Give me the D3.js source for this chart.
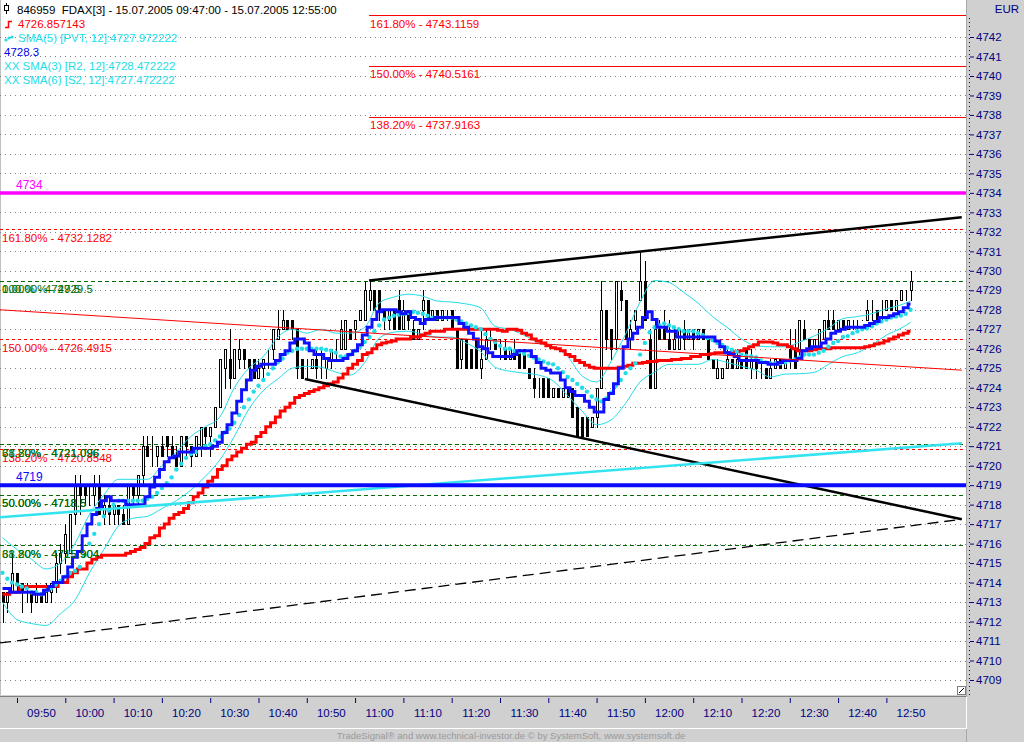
<!DOCTYPE html>
<html>
<head>
<meta charset="utf-8">
<script src="https://cdn.jsdelivr.net/npm/d3@7"></script>
<style>
body { margin: 0; background: #fff; overflow: hidden; }
svg { display: block; font-family: "Liberation Sans", Arial, sans-serif; }
</style>
</head>
<body>
<svg id="chart" width="1024" height="742"></svg>
<script>
//------------------------------------------------------------
//--------------------------- DADOS --------------------------
// barras de 1 minuto a partir de 09:47 (FDAX, 15.07.2005)
var opens = [
4713.5,4713,4713.5,4714.5,4714,4713.5,4713.5,4713,4713.5,4713,
4713.5,4714,4715,4715.5,4715.5,4717.5,4719,4719,4718.5,4718.5,
4719,4717.5,4718,4717.5,4718,4717.5,4717,4719,4718.5,4719.5,
4721,4720.5,4720.5,4721,4721.5,4721,4720.5,4720,4721.5,4721,
4720.5,4721,4722,4721.5,4722,4723,4725,4725.5,4724.5,4725.5,
4726,4725.5,4725.5,4724.5,4725,4725.5,4726,4726.5,4727,4727.5,
4727.5,4727,4725.5,4725,4725,4725.5,4725,4725,4725.5,4726,
4726,4726,4727,4727,4727.5,4727.5,4728.5,4729,4729,4728,
4727.5,4728,4728.5,4727,4728,4727,4726.5,4728,4728.5,4727.5,
4728,4727.5,4728,4728,4727,4725.5,4726.5,4726,4726.5,4725,
4725.5,4726.5,4726.5,4726,4726,4725.5,4726,4726,4726,4725,
4724.5,4724,4724.5,4724.5,4723.5,4724,4723.5,4724,4724,4723,
4722.5,4722.5,4722,4722.5,4724,4728,4727,4726.5,4729,4728.5,
4726.5,4727.5,4728.5,4729.5,4726.5,4724,4727,4727,4726.5,4726,
4726,4727,4726.5,4727,4726.5,4727,4726.5,4725.5,4724.5,4724.5,
4725,4725.5,4725,4725.5,4726,4725,4725.5,4725,4725,4724.5,
4725,4725.5,4725,4726,4726,4726,4727,4726.5,4726,4726,
4726.5,4727.5,4727.5,4727,4727.5,4727,4727.5,4727.5,4727.5,4727.5,
4728,4728,4728,4728,4728.5,4728,4728.5,4729,4729];

var highs = [
4713.5,4713.5,4715.5,4714.5,4714,4714,4713.5,4714,4713.5,4714,
4714,4715.5,4716,4717,4717.5,4719.5,4719.5,4719,4719,4719.5,
4719.5,4718.5,4718.5,4718,4718,4718,4719,4719,4719.5,4721.5,
4721.5,4721.5,4721,4721.5,4721.5,4721.5,4721,4721.5,4721.5,4721,
4721.5,4722,4722,4722,4723,4725.5,4726,4727,4726,4726.5,
4726,4725.5,4725.5,4725.5,4725.5,4726,4727,4728,4728,4727.5,
4727.5,4727,4725.5,4725.5,4725.5,4726,4726,4725.5,4726,4726.5,
4727.5,4727.5,4727,4727.5,4728,4729.5,4729.5,4729,4729,4728,
4728,4728,4729,4728.5,4728,4727.5,4727,4729,4728.5,4728,
4728,4728,4728,4728,4727,4726.5,4726.5,4726,4726.5,4727,
4727,4727,4726.5,4726.5,4726.5,4726,4726.5,4726,4726,4725,
4725,4724.5,4724.5,4724.5,4724,4724,4724,4724,4724,4723,
4722.5,4722.5,4722.5,4724,4729.5,4728,4727,4729.5,4729.5,4728.5,
4727.5,4728,4731,4730.5,4727,4727.5,4727.5,4728,4727.5,4727,
4727,4727.5,4727,4727,4727,4727,4726.5,4725.5,4725.5,4725,
4726,4725.5,4726,4725.5,4726,4726,4725.5,4725.5,4725,4725.5,
4725.5,4725.5,4725.5,4727,4727,4727.5,4727.5,4726.5,4726.5,4727,
4727.5,4728,4728,4727.5,4727.5,4727.5,4727.5,4727.5,4727.5,4728.5,
4728.5,4728,4728.5,4728.5,4728.5,4728.5,4729,4729,4730];

var lows = [
4712,4712.5,4713.5,4713.5,4712.5,4713,4712.5,4713,4713,4713,
4713,4713.5,4714.5,4715,4715.5,4717,4717.5,4718,4718,4718,
4717.5,4717,4717,4717,4717,4717,4717,4718,4718,4719,
4720.5,4720,4720,4720.5,4720.5,4720.5,4720,4720,4720.5,4720,
4720.5,4720.5,4721,4720.5,4722,4723,4724,4724,4724.5,4725,
4725,4724.5,4724.5,4724.5,4724.5,4725,4725.5,4726.5,4727,4727,
4726.5,4724.5,4724.5,4724.5,4725,4724.5,4724.5,4724.5,4725,4725.5,
4726,4726,4726.5,4726.5,4727.5,4727.5,4728,4728,4727.5,4727,
4727,4727,4727,4727,4727,4726.5,4726.5,4727,4727.5,4727.5,
4727.5,4727.5,4727.5,4727,4725,4725,4725,4725,4725,4724.5,
4725.5,4726,4726,4725.5,4725.5,4725.5,4725.5,4725,4725,4724.5,
4723.5,4723.5,4723.5,4723.5,4723.5,4723.5,4723.5,4723.5,4722.5,4721.5,
4721.5,4721.5,4722,4722,4724,4726,4725.5,4726,4728,4726.5,
4726,4727,4728.5,4727.5,4724,4724,4726.5,4726.5,4726,4726,
4726,4726,4726.5,4726,4726.5,4726.5,4725.5,4725,4724.5,4724.5,
4725,4725,4725,4725,4725,4724.5,4724.5,4724.5,4724.5,4724.5,
4725,4725,4725,4725,4725,4725.5,4726.5,4726,4726,4726,
4726.5,4727,4727,4727,4727,4727,4727,4727,4727.5,4727.5,
4727.5,4727.5,4727.5,4728,4728,4728,4728.5,4728.5,4728.5];

var closes = [
4713,4713.5,4714.5,4714,4713.5,4713.5,4713,4713.5,4713,4713.5,
4714,4715,4715.5,4716.5,4717.5,4719,4718.5,4718.5,4718.5,4719,
4717.5,4718,4717.5,4718,4717.5,4717,4719,4718.5,4719.5,4721,
4720.5,4720.5,4721,4720.5,4721,4720.5,4720,4721.5,4721,4720.5,
4721.5,4722,4721.5,4722,4723,4725.5,4726,4724.5,4726,4726,
4725.5,4725,4724.5,4725,4725.5,4725.5,4727,4727,4727.5,4727,
4727,4725,4724.5,4725,4725.5,4725,4725,4725.5,4726,4726,
4727,4727.5,4726.5,4727.5,4728,4729,4729,4728,4728,4727.5,
4728,4727,4727,4728,4727.5,4726.5,4727,4728.5,4727.5,4728,
4727.5,4728,4728,4727,4725,4726.5,4725,4725,4725,4725.5,
4726.5,4726.5,4726,4726,4725.5,4726,4725.5,4725,4725,4724.5,
4724,4724,4723.5,4723.5,4724,4723.5,4724,4723.5,4722.5,4721.5,
4721.5,4721.5,4722.5,4724,4728,4726.5,4726,4729.5,4728.5,4726.5,
4727,4728,4729.5,4727.5,4724,4727,4726.5,4726.5,4726,4726.5,
4727,4726.5,4727,4726.5,4727,4726.5,4725.5,4725,4725,4725,
4725.5,4725,4725.5,4725,4725,4725.5,4725,4725,4724.5,4725,
4725.5,4725,4725.5,4725.5,4725,4727.5,4726.5,4726,4726.5,4727,
4727.5,4727,4727,4727.5,4727,4727.5,4727.5,4727.5,4727.5,4728,
4728,4727.5,4728,4728.5,4728,4728.5,4729,4729,4729.5];

// linha azul em degraus (4728.3)
var blueLine = [
4713.7,4713.7,4713.5,4713.5,4713.5,4713.5,4713.5,4713.4,4713.4,4713.6,
4713.8,4714,4714,4714.3,4714.8,4715.3,4715.6,4716.4,4717,4717.5,
4717.8,4718.2,4718.4,4718.2,4718.2,4718.2,4718,4718,4718,4718,
4718.4,4718.9,4719.4,4719.8,4720.2,4720.4,4720.5,4720.7,4720.7,4720.7,
4720.9,4720.9,4720.9,4720.9,4721,4721.2,4721.7,4722.1,4722.7,4723.3,
4723.9,4724.4,4724.9,4725.1,4725.2,4725.2,4725.2,4725.4,4725.7,4725.9,
4726.3,4726.5,4726.5,4726.3,4725.9,4725.7,4725.7,4725.5,4725.4,4725.4,
4725.4,4725.5,4725.7,4725.9,4726.2,4726.7,4727.1,4727.5,4727.9,4728,
4728,4728,4727.9,4727.8,4727.9,4727.6,4727.5,4727.3,4727.5,4727.5,
4727.6,4727.6,4727.6,4727.6,4727.6,4727.3,4727.1,4726.8,4726.5,4726.1,
4726,4725.8,4725.6,4725.6,4725.6,4725.6,4725.7,4725.9,4725.9,4725.9,
4725.6,4725.3,4725,4724.9,4724.75,4724.75,4724.4,4724,4723.8,4723.6,
4723.6,4723.3,4723,4722.75,4722.75,4723.4,4723.7,4724.2,4725,4726.1,
4726.5,4726.8,4727.1,4727.6,4727.9,4727.5,4727.1,4727.1,4726.9,4726.9,
4726.6,4726.6,4726.6,4726.6,4726.6,4726.6,4726.6,4726.6,4726.4,4726.1,
4725.8,4725.7,4725.6,4725.4,4725.4,4725.4,4725.4,4725.3,4725.3,4725.2,
4725.2,4725.3,4725.4,4725.4,4725.4,4725.5,4725.9,4726,4726.1,4726.1,
4726.3,4726.5,4726.8,4726.9,4727,4727.1,4727.1,4727.1,4727.1,4727.2,
4727.3,4727.4,4727.6,4727.6,4727.7,4727.8,4727.9,4728.1,4728.3];

// linha vermelha em degraus (4726.857143)
var redLine = [
4713.4,4713.4,4713.5,4713.5,4713.8,4713.8,4713.8,4713.8,4713.8,4713.8,
4713.8,4713.8,4714,4714,4714.3,4714.5,4714.7,4714.7,4715,4715.2,
4715.3,4715.4,4715.4,4715.4,4715.4,4715.4,4715.5,4715.6,4715.7,4715.8,
4716,4716.3,4716.4,4716.8,4717,4717.3,4717.5,4717.6,4717.8,4718.1,
4718.4,4718.6,4718.9,4719.2,4719.4,4719.8,4720,4720.3,4720.5,4720.7,
4720.9,4721.1,4721.2,4721.5,4721.7,4722,4722.2,4722.5,4722.8,4723,
4723.2,4723.5,4723.6,4723.7,4723.8,4723.9,4724,4724.1,4724.2,4724.3,
4724.5,4724.7,4725,4725.2,4725.4,4725.7,4725.8,4726,4726.2,4726.3,
4726.35,4726.4,4726.5,4726.5,4726.5,4726.6,4726.6,4726.7,4726.8,4726.9,
4726.9,4726.9,4727,4727,4727,4727,4727,4727,4727,4727,
4727,4727,4727,4726.95,4726.9,4727,4727,4726.95,4726.8,4726.7,
4726.5,4726.4,4726.3,4726.15,4726.05,4726,4725.9,4725.7,4725.6,4725.4,
4725.3,4725.15,4725.05,4725,4725,4725,4725,4725,4725.05,4725.1,
4725.15,4725.25,4725.25,4725.3,4725.35,4725.35,4725.4,4725.4,4725.4,4725.45,
4725.45,4725.5,4725.5,4725.6,4725.6,4725.7,4725.7,4725.75,4725.8,4725.8,
4725.8,4725.8,4725.85,4725.9,4726,4726.1,4726.2,4726.35,4726.35,4726.35,
4726.3,4726.2,4726.2,4726.1,4726,4725.9,4725.9,4725.9,4725.95,4726,
4726,4726,4726.05,4726.05,4726.05,4726.05,4726.05,4726.05,4726.05,4726.1,
4726.15,4726.25,4726.3,4726.4,4726.5,4726.6,4726.7,4726.8,4726.9];

// pontos ciano SMA(5) [PVT, 12]
var pvtDots = [
4714.5,4714.2,4714,4713.9,4713.8,4713.7,4713.5,4713.5,4713.4,4713.6,
4713.7,4713.9,4714.1,4714.3,4714.5,4714.6,4714.8,4715.4,4716,4716.5,
4717,4717.4,4717.7,4718,4718.2,4718.2,4718.2,4718.2,4718.2,4718.2,
4718.3,4718.4,4718.6,4718.85,4719.1,4719.4,4719.8,4720.1,4720.4,4720.6,
4720.7,4720.9,4721,4721.1,4721.3,4721.5,4721.7,4721.9,4722.2,4722.6,
4723,4723.4,4723.8,4724.1,4724.4,4724.7,4725,4725.3,4725.5,4725.8,
4725.9,4726,4726,4726,4726,4726,4726,4725.95,4725.9,4725.8,
4725.6,4725.6,4725.7,4725.9,4726.1,4726.35,4726.6,4726.9,4727.2,4727.5,
4727.6,4727.7,4727.75,4727.8,4727.85,4727.9,4727.85,4727.8,4727.7,4727.6,
4727.6,4727.6,4727.6,4727.6,4727.5,4727.4,4727.3,4727.2,4727.1,4727,
4726.75,4726.5,4726.35,4726.15,4726,4726,4725.9,4725.85,4725.75,4725.65,
4725.55,4725.45,4725.35,4725.25,4725.2,4725,4724.8,4724.55,4724.4,4724.2,
4724,4723.8,4723.55,4723.4,4723.3,4723.45,4723.75,4724.1,4724.4,4724.75,
4725,4725.25,4725.7,4726.3,4726.85,4727.1,4727.2,4727.3,4727.2,4727.1,
4727,4726.9,4726.9,4726.9,4726.8,4726.7,4726.55,4726.45,4726.3,4726.2,
4726.05,4725.95,4725.85,4725.7,4725.65,4725.6,4725.55,4725.4,4725.3,4725.25,
4725.25,4725.25,4725.3,4725.4,4725.45,4725.55,4725.7,4725.7,4725.7,4725.8,
4725.9,4726.1,4726.3,4726.4,4726.6,4726.65,4726.8,4726.9,4727,4727.05,
4727.15,4727.3,4727.4,4727.5,4727.6,4727.65,4727.7,4727.8,4728];

// bandas finas ciano, lidas a cada 3 barras (ultima na barra 188)
var bandUpper = [
4716.3,4715.7,4715.2,4714.7,4715,4716,4717.5,4718.5,4719.3,4719.3,
4719.3,4720,4720.7,4721.5,4722,4722.5,4724,4725,4725.6,4726.6,
4727,4726.8,4727,4726.8,4726.8,4727.1,4728.35,4728.65,4728.8,4728.7,
4728.45,4728.4,4728.3,4728.1,4727.15,4727,4726.7,4726.3,4726.1,4725.6,
4724.6,4724.3,4725.35,4726.75,4728.4,4729.5,4729.4,4728.9,4728.35,4727.65,
4727.1,4726.5,4726.15,4726.1,4726.1,4726.35,4726.65,4727.05,4727.55,4727.65,
4727.8,4728.05,4728.25,4728.45];
var bandLower = [
4713,4712.1,4711.9,4711.8,4712.4,4713.1,4714.5,4715.7,4716.9,4717.3,
4717.4,4717.8,4718.2,4718.75,4719.45,4720.3,4721.5,4722.9,4723.85,4724.45,
4725,4725.1,4725.05,4724.8,4724.65,4725.3,4726.55,4726.85,4726.9,4726.75,
4726.6,4726.6,4726.3,4725.85,4725.05,4724.85,4724.75,4724.65,4724.35,4723.6,
4722.8,4722.1,4722.35,4723.2,4724.3,4724.8,4725.2,4725.2,4725.2,4725.45,
4725.3,4725.1,4724.9,4724.55,4724.7,4724.72,4724.78,4725.2,4725.6,4725.8,
4726.2,4726.7,4727.05,4727.35];

// niveis de Fibonacci
var fibGreenLevels = [4729.5, 4721.096, 4718.5, 4715.904];
var fibGreenPctA = ["0.00%", "38.20%", "50.00%", "61.80%"];
var fibGreenPctB = ["100.00%", "61.80%", "50.00%", "38.20%"];
var fibRedLevels = [4732.1282, 4726.4915, 4720.8548];
var fibRedPct = ["161.80%", "150.00%", "138.20%"];
var fibTopLevels = [4743.1159, 4740.5161, 4737.9163];
var fibTopPct = ["161.80%", "150.00%", "138.20%"];
var fibTopStartMin = 75.9;

// linhas horizontais
var hLevels = [4734, 4719];
var hLabels = ["4734", "4719"];

// linhas de tendencia (minutos desde 09:47, preco)
var trendFromMin = [75.9, 62.6, -0.5, -0.5, -0.5];
var trendFromPrice = [4729.5, 4724.45, 4710.9, 4717.35, 4728.0];
var trendToMin = [198.6, 198.6, 198.6, 198.6, 198.6];
var trendToPrice = [4732.75, 4717.25, 4717.25, 4721.15, 4724.9];

var priceTicks = d3.range(4709, 4743);
var timeTickLabels = ["09:50","10:00","10:10","10:20","10:30","10:40","10:50","11:00","11:10",
  "11:20","11:30","11:40","11:50","12:00","12:10","12:20","12:30","12:40","12:50"];

var titleText = "846959  FDAX[3] - 15.07.2005 09:47:00 - 15.07.2005 12:55:00";
var legendTexts = ["4726.857143", "SMA(5) [PVT, 12]:4727.972222", "4728.3",
  "XX SMA(3) [R2, 12]:4728.472222", "XX SMA(6) [S2, 12]:4727.472222"];
var footerText = "TradeSignal\u00ae and www.technical-investor.de \u00a9 by SystemSoft, www.systemsoft.de";

//------------------------------------------------------------
//--------------------------- ESCALAS ------------------------
var plotW = 966, plotH = 695;
var pxPorMin = 4.83;
var t0 = new Date(2005, 6, 15, 9, 47, 0);

function minParaData(m) {
  return new Date(t0.getTime() + m * 60000);
}

var xScale = d3.scaleTime()
  .domain([minParaData(-2.5 / pxPorMin), minParaData((plotW - 2.5) / pxPorMin)])
  .range([0, plotW]);

var yScale = d3.scaleLinear()
  .domain([4709, 4742])
  .range([680, 37]);

var bars = opens.map(function(o, i) {
  return { t: minParaData(i), o: o, h: highs[i], l: lows[i], c: closes[i] };
});

var bandBars = d3.range(0, 187, 3).concat([188]);

var corCiano = "#22dde8";
var corVerde = "#006c00";

var svg = d3.select("#chart");

//------------------------------------------------------------
//--------------------------- FUNDO --------------------------
svg.append("rect").attr("width", 1024).attr("height", 742).attr("fill", "#d0d0d0");
svg.append("rect").attr("width", plotW).attr("height", plotH).attr("fill", "#fff");
svg.append("line").attr("x1", 0.5).attr("x2", 0.5).attr("y1", 0).attr("y2", plotH)
  .attr("stroke", "#c0c0c0");

svg.append("clipPath").attr("id", "clipPlot")
  .append("rect").attr("width", plotW).attr("height", plotH);

var plot = svg.append("g").attr("clip-path", "url(#clipPlot)");

// grade pontilhada
plot.selectAll(".grade")
  .data(priceTicks)
  .enter()
  .append("line")
  .attr("x1", 0).attr("x2", plotW)
  .attr("y1", function(d) { return Math.round(yScale(d)) + 0.5; })
  .attr("y2", function(d) { return Math.round(yScale(d)) + 0.5; })
  .attr("stroke", "#808080")
  .attr("stroke-dasharray", "1,4");

//------------------------------------------------------------
//--------------------------- FIBONACCI ----------------------
function desenhaNivel(g, preco, x1, cor, tracado) {
  var y = Math.round(yScale(preco)) + 0.5;
  g.append("line")
    .attr("x1", x1).attr("x2", plotW)
    .attr("y1", y).attr("y2", y)
    .attr("stroke", cor)
    .attr("stroke-dasharray", tracado);
}

function rotulaNivel(g, texto, preco, x, cor) {
  g.append("text")
    .attr("x", x)
    .attr("y", yScale(preco) + 12.5)
    .attr("font-size", "11.5px")
    .attr("fill", cor)
    .text(texto);
}

fibRedLevels.forEach(function(p, i) {
  desenhaNivel(plot, p, 0, "#ff0000", "3,3");
});
fibGreenLevels.forEach(function(p, i) {
  desenhaNivel(plot, p, 0, corVerde, "4,3");
});
fibTopLevels.forEach(function(p, i) {
  desenhaNivel(plot, p, xScale(minParaData(fibTopStartMin)), "#ff0000", null);
});

//------------------------------------------------------------
//--------------------------- CANDLES ------------------------
function cx(d) { return Math.round(xScale(d.t)); }

plot.selectAll(".pavio")
  .data(bars)
  .enter()
  .append("line")
  .attr("x1", function(d) { return cx(d) + 0.5; })
  .attr("x2", function(d) { return cx(d) + 0.5; })
  .attr("y1", function(d) { return Math.round(yScale(d.h)); })
  .attr("y2", function(d) { return Math.round(yScale(d.l)) + 1; })
  .attr("stroke", "#000");

plot.selectAll(".corpo")
  .data(bars)
  .enter()
  .append("rect")
  .attr("x", function(d) { return cx(d) - 0.5; })
  .attr("y", function(d) { return Math.round(yScale(Math.max(d.o, d.c))) + 0.5; })
  .attr("width", 2)
  .attr("height", function(d) {
    return Math.round(yScale(Math.min(d.o, d.c))) - Math.round(yScale(Math.max(d.o, d.c)));
  })
  .attr("fill", function(d) { return d.c >= d.o ? "#fff" : "#000"; })
  .attr("stroke", "#000");

//------------------------------------------------------------
//--------------------------- INDICADORES --------------------
var linhaBanda = d3.line()
  .x(function(d, i) { return xScale(minParaData(bandBars[i])); })
  .y(function(d) { return yScale(d); })
  .curve(d3.curveMonotoneX);

[bandUpper, bandLower].forEach(function(serie) {
  plot.append("path")
    .datum(serie)
    .attr("d", linhaBanda)
    .attr("fill", "none")
    .attr("stroke", corCiano)
    .attr("stroke-width", 1);
});

var linhaDegrau = d3.line()
  .x(function(d, i) { return xScale(minParaData(i)); })
  .y(function(d) { return yScale(d); })
  .curve(d3.curveStep);

plot.append("path")
  .datum(redLine)
  .attr("d", linhaDegrau)
  .attr("fill", "none")
  .attr("stroke", "#ff0000")
  .attr("stroke-width", 3);

plot.selectAll(".pvt")
  .data(pvtDots)
  .enter()
  .append("circle")
  .attr("cx", function(d, i) { return xScale(minParaData(i)); })
  .attr("cy", function(d) { return yScale(d); })
  .attr("r", 2.2)
  .attr("fill", corCiano);

plot.append("path")
  .datum(blueLine)
  .attr("d", linhaDegrau)
  .attr("fill", "none")
  .attr("stroke", "#1010ff")
  .attr("stroke-width", 3);

//------------------------------------------------------------
//--------------------------- LINHAS DESENHADAS --------------
var estiloTend = [
  { cor: "#000", larg: 2.5, tracado: null },
  { cor: "#000", larg: 2.5, tracado: null },
  { cor: "#000", larg: 1.3, tracado: "11,6" },
  { cor: "#33e4f0", larg: 2.6, tracado: null },
  { cor: "#ff0000", larg: 1, tracado: null }
];

trendFromMin.forEach(function(m, i) {
  var e = estiloTend[i];
  plot.append("line")
    .attr("x1", xScale(minParaData(m)))
    .attr("y1", yScale(trendFromPrice[i]))
    .attr("x2", xScale(minParaData(trendToMin[i])))
    .attr("y2", yScale(trendToPrice[i]))
    .attr("stroke", e.cor)
    .attr("stroke-width", e.larg)
    .attr("stroke-dasharray", e.tracado);
});

var estiloHoriz = [
  { cor: "#ff00ff", larg: 3.5 },
  { cor: "#0a0aff", larg: 4 }
];

hLevels.forEach(function(p, i) {
  plot.append("line")
    .attr("x1", 0).attr("x2", plotW)
    .attr("y1", yScale(p)).attr("y2", yScale(p))
    .attr("stroke", estiloHoriz[i].cor)
    .attr("stroke-width", estiloHoriz[i].larg);
  plot.append("text")
    .attr("x", 16)
    .attr("y", yScale(p) - 4)
    .attr("font-size", "12px")
    .attr("fill", estiloHoriz[i].cor)
    .text(hLabels[i]);
});

// rotulos dos niveis
fibRedLevels.forEach(function(p, i) {
  rotulaNivel(plot, fibRedPct[i] + " - " + p, p, 2, "#ff0000");
});
fibGreenLevels.forEach(function(p, i) {
  rotulaNivel(plot, fibGreenPctA[i] + " - " + p, p, 2, corVerde);
  rotulaNivel(plot, fibGreenPctB[i] + " - " + p, p, 2, corVerde);
});
fibTopLevels.forEach(function(p, i) {
  rotulaNivel(plot, fibTopPct[i] + " - " + p, p, xScale(minParaData(fibTopStartMin)) + 1, "#ff0000");
});

// canto de redimensionar
plot.append("rect").attr("x", 957.5).attr("y", 686.5).attr("width", 8).attr("height", 8)
  .attr("fill", "#fff").attr("stroke", "#808080");
plot.append("line").attr("x1", 959).attr("y1", 693).attr("x2", 964).attr("y2", 688)
  .attr("stroke", "#000");

//------------------------------------------------------------
//--------------------------- LEGENDA ------------------------
var leg = svg.append("g").attr("font-size", "11.5px");

leg.append("line").attr("x1", 6.5).attr("x2", 6.5).attr("y1", 3).attr("y2", 14).attr("stroke", "#000");
leg.append("rect").attr("x", 4.5).attr("y", 5.5).attr("width", 4).attr("height", 5)
  .attr("fill", "#fff").attr("stroke", "#000");
leg.append("text").attr("x", 17).attr("y", 14).attr("fill", "#000")
  .style("white-space", "pre").text(titleText);

leg.append("path").attr("d", "M5,27.5H8.5V21.5H12").attr("fill", "none")
  .attr("stroke", "#ff0000").attr("stroke-width", 1.5);
[[6, 40], [9, 38], [12, 37]].forEach(function(p) {
  leg.append("circle").attr("cx", p[0]).attr("cy", p[1]).attr("r", 1.6).attr("fill", corCiano);
});

var legX = [18, 18, 4, 4, 4];
var legY = [28, 42, 56, 70, 84];
var legCor = ["#ff0000", corCiano, "#0000ee", corCiano, corCiano];
legendTexts.forEach(function(t, i) {
  leg.append("text").attr("x", legX[i]).attr("y", legY[i])
    .attr("fill", legCor[i]).text(t);
});

//------------------------------------------------------------
//--------------------------- EIXOS --------------------------
var corEixo = "#000080";

// eixo de precos
svg.append("line").attr("x1", plotW + 0.5).attr("x2", plotW + 0.5).attr("y1", 0).attr("y2", 742)
  .attr("stroke", "#a8a8a8");
svg.append("line").attr("x1", 969.5).attr("x2", 969.5).attr("y1", 18).attr("y2", plotH)
  .attr("stroke", corEixo).attr("stroke-dasharray", "1,3");

var eixoY = d3.axisRight(yScale)
  .tickValues(priceTicks)
  .tickSize(4)
  .tickPadding(2)
  .tickFormat(d3.format("d"));

var gEixoY = svg.append("g")
  .attr("transform", "translate(970,0)")
  .call(eixoY);
gEixoY.select(".domain").remove();
gEixoY.selectAll("line").attr("stroke", corEixo);
gEixoY.selectAll("text")
  .attr("fill", corEixo)
  .attr("font-size", "11.5px")
  .attr("font-family", "Liberation Sans, Arial, sans-serif");

svg.append("text").attr("x", 1019).attr("y", 13).attr("text-anchor", "end")
  .attr("font-size", "11.5px").attr("fill", corEixo).text("EUR");

// eixo do tempo
svg.append("line").attr("x1", 0).attr("x2", plotW).attr("y1", 696.5).attr("y2", 696.5)
  .attr("stroke", "#808080");
svg.append("line").attr("x1", 0).attr("x2", plotW + 1).attr("y1", 728.5).attr("y2", 728.5)
  .attr("stroke", "#fff");
svg.append("line").attr("x1", plotW + 0.5).attr("x2", plotW + 0.5).attr("y1", 697).attr("y2", 729)
  .attr("stroke", "#fff");

var timeTicks = timeTickLabels.map(function(s) {
  var p = s.split(":");
  return new Date(2005, 6, 15, +p[0], +p[1], 0);
});

var eixoX = d3.axisBottom(xScale)
  .tickValues(timeTicks)
  .tickSize(5)
  .tickFormat(d3.timeFormat("%H:%M"));

var gEixoX = svg.append("g")
  .attr("transform", "translate(0,698)")
  .call(eixoX);
gEixoX.select(".domain").remove();
gEixoX.selectAll("line").attr("stroke", corEixo);
gEixoX.selectAll("text")
  .attr("x", 24)
  .attr("y", 19)
  .attr("dy", 0)
  .attr("fill", corEixo)
  .attr("font-size", "11.5px")
  .attr("font-family", "Liberation Sans, Arial, sans-serif");

svg.append("text").attr("x", 511).attr("y", 739).attr("text-anchor", "middle")
  .attr("font-size", "9.5px").attr("fill", "#9a9a9a").text(footerText);
</script>
</body>
</html>
